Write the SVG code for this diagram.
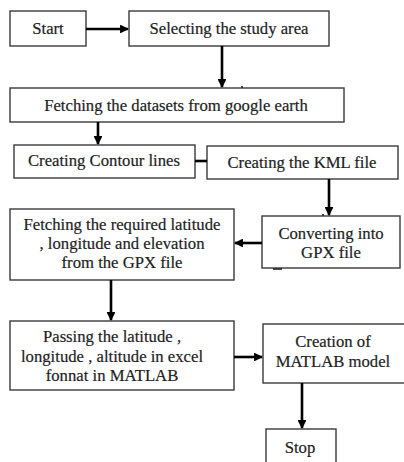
<svg xmlns="http://www.w3.org/2000/svg" width="404" height="462" viewBox="0 0 404 462">
<style>
.box{fill:#fff;stroke:#3a3a3a;stroke-width:1.4}
text{font-family:'Liberation Serif','Times New Roman',Times,serif;font-size:16.7px;fill:#1e1e1e;stroke:#1e1e1e;stroke-width:0.2;text-anchor:middle}
.c{stroke:#000;stroke-width:2.6;fill:none}
.s{stroke:#222;stroke-width:1.6;fill:none}
</style>
<defs>
<marker id="ah" viewBox="0 0 10 10" refX="9" refY="5" markerWidth="3.4" markerHeight="3.4" orient="auto" markerUnits="strokeWidth">
<path d="M0,0 L10,5 L0,10 z" fill="#000"/>
</marker>
</defs>
<rect width="404" height="462" fill="#fff"/>
<g id="start"><rect class="box" x="10" y="11" width="76" height="35"/><text x="48" y="34">Start</text></g>
<g id="select"><rect class="box" x="129" y="11" width="200" height="35"/><text x="229" y="34">Selecting the study area</text></g>
<g id="fetchds"><rect class="box" x="10" y="88" width="334" height="34"/><text x="176" y="111">Fetching the datasets from google earth</text></g>
<g id="contour"><rect class="box" x="14" y="145" width="181" height="33"/><text x="104" y="166">Creating Contour lines</text></g>
<g id="kml"><rect class="box" x="207" y="146" width="191" height="33"/><text x="302" y="168">Creating the KML file</text></g>
<g id="gpx"><rect class="box" x="262" y="216" width="138" height="52"/><text x="331" y="239">Converting into</text><text x="331" y="258">GPX file</text></g>
<g id="fetchreq"><rect class="box" x="10" y="209" width="224" height="71"/><text x="122" y="230">Fetching the required latitude</text><text x="122" y="249">, longitude and elevation</text><text x="122" y="268">from the GPX file</text></g>
<g id="passing"><rect class="box" x="10" y="321" width="224" height="69"/><text x="112" y="342">Passing the latitude ,</text><text x="112" y="362">longitude , altitude in excel</text><text x="112" y="381">fonnat in MATLAB</text></g>
<g id="matlab"><rect class="box" x="263" y="324" width="145" height="59"/><text x="333" y="347">Creation of</text><text x="333" y="367">MATLAB model</text></g>
<g id="stop"><rect class="box" x="266" y="429" width="70" height="40"/><text x="300" y="453">Stop</text></g>
<g id="connectors">
<line class="c" x1="86" y1="29" x2="128" y2="29" marker-end="url(#ah)"/>
<line class="c" x1="222" y1="46" x2="222" y2="87" marker-end="url(#ah)"/>
<line class="c" x1="98" y1="122" x2="98" y2="144" marker-end="url(#ah)"/>
<line class="c" x1="195" y1="161" x2="207" y2="161"/>
<line class="c" x1="329" y1="179" x2="329" y2="215" marker-end="url(#ah)"/>
<line class="c" x1="262" y1="243" x2="235" y2="243" marker-end="url(#ah)"/>
<line class="c" x1="111" y1="280" x2="111" y2="320" marker-end="url(#ah)"/>
<line class="c" x1="234" y1="357" x2="262" y2="357" marker-end="url(#ah)"/>
<line class="c" x1="302" y1="383" x2="302" y2="428" marker-end="url(#ah)"/>
<line class="s" x1="273" y1="269" x2="282" y2="269"/>
<line class="s" x1="242" y1="86" x2="242" y2="88" stroke-width="1"/>
<line class="s" x1="323" y1="214" x2="323" y2="216" stroke-width="1"/>
</g>
</svg>
